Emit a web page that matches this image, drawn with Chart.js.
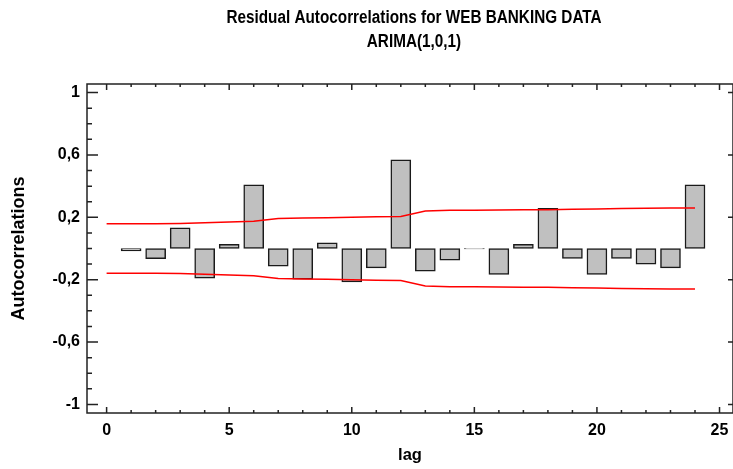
<!DOCTYPE html>
<html>
<head>
<meta charset="utf-8">
<script src="https://cdn.jsdelivr.net/npm/chart.js@4.4.0/dist/chart.umd.min.js"></script>
<style>
  html, body { margin: 0; padding: 0; background: #fff; }
  canvas { display: block; }
</style>
</head>
<body>
<canvas id="acfChart" width="733" height="469"></canvas>
<script>
// lags and residual autocorrelations
const lags = [1, 2, 3, 4, 5, 6, 7, 8, 9, 10, 11, 12, 13, 14, 15, 16, 17, 18, 19, 20, 21, 22, 23, 24];
const acf = [
  -0.015, -0.065, 0.132, -0.19, 0.026, 0.408, -0.113, -0.197, 0.036, -0.214, -0.124, 0.568,
  -0.146, -0.075, -0.003, -0.167, 0.026, 0.258, -0.063, -0.167, -0.063, -0.1, -0.124, 0.408,
];

// 95% probability limits
const limitLags = [0, 1, 2, 3, 4, 5, 6, 7, 8, 9, 10, 11, 12, 13, 14, 15, 16, 17, 18, 19, 20, 21, 22, 23, 24];
const upperLimit = [
  0.158, 0.158, 0.158, 0.161, 0.165, 0.17, 0.174, 0.193, 0.195, 0.197, 0.2, 0.203, 0.206,
  0.24, 0.245, 0.246, 0.247, 0.248, 0.249, 0.251, 0.253, 0.257, 0.258, 0.259, 0.26,
];
const lowerLimit = upperLimit.map(v => -v);

// tick labels
const xTickVals = [0, 5, 10, 15, 20, 25];
const yTickVals = [-1, -0.6, -0.2, 0.2, 0.6, 1];
const titleLines = ["Residual Autocorrelations for WEB BANKING DATA", "ARIMA(1,0,1)"];

Chart.defaults.color = "#000";

// condensed two-line title over the plot
const narrowTitle = {
  id: "narrowTitle",
  afterDraw(chart) {
    const { ctx } = chart;
    ctx.save();
    ctx.font = "bold 18px 'Liberation Sans', Arial, sans-serif";
    ctx.textAlign = "center";
    ctx.textBaseline = "middle";
    ctx.fillStyle = "#000";
    ctx.translate(414, 0);
    ctx.scale(0.85, 1);
    titleLines.forEach((t, i) => ctx.fillText(t, 0, 18 + i * 24));
    ctx.restore();
  },
};

// frame with inward tick marks
const frameTicks = {
  id: "frameTicks",
  afterDatasetsDraw(chart) {
    const { ctx, chartArea: a, scales: { x, y } } = chart;
    ctx.save();
    ctx.strokeStyle = "#222";
    ctx.lineWidth = 1.5;
    ctx.strokeRect(a.left, a.top, a.right - a.left, a.bottom - a.top);
    ctx.beginPath();
    for (let i = -10; i <= 10; i++) {
      const py = y.getPixelForValue(i / 10);
      const major = (i + 10) % 4 === 0;
      ctx.moveTo(a.left, py);
      ctx.lineTo(a.left + (major ? 11 : 5), py);
      if (major) {
        ctx.moveTo(a.right, py);
        ctx.lineTo(a.right - 5, py);
      }
    }
    for (let v = 0; v <= 25; v++) {
      const px = x.getPixelForValue(v);
      const len = v % 5 === 0 ? 6 : 3;
      ctx.moveTo(px, a.bottom);
      ctx.lineTo(px, a.bottom - len);
      ctx.moveTo(px, a.top);
      ctx.lineTo(px, a.top + len);
    }
    ctx.stroke();
    ctx.restore();
  },
};

const ctx = document.getElementById("acfChart");

const myChart = new Chart(ctx, {
  type: "bar",
  data: {
    datasets: [
      {
        type: "line",
        data: limitLags.map((l, i) => ({ x: l, y: upperLimit[i] })),
        borderColor: "#ff0000",
        borderWidth: 1.5,
        pointRadius: 0,
        tension: 0,
        fill: false,
        order: 1,
      },
      {
        type: "line",
        data: limitLags.map((l, i) => ({ x: l, y: lowerLimit[i] })),
        borderColor: "#ff0000",
        borderWidth: 1.5,
        pointRadius: 0,
        tension: 0,
        fill: false,
        order: 1,
      },
      {
        type: "bar",
        data: lags.map((l, i) => ({ x: l, y: acf[i] })),
        backgroundColor: "#c0c0c0",
        borderColor: "#1a1a1a",
        borderWidth: 1.5,
        borderSkipped: false,
        barThickness: 20,
        order: 2,
      },
    ],
  },
  options: {
    responsive: false,
    animation: false,
    layout: { padding: { left: 0, right: 0, top: 84, bottom: 0 } },
    plugins: {
      legend: { display: false },
      tooltip: { enabled: false },
      title: { display: false },
    },
    scales: {
      x: {
        type: "linear",
        offset: false,
        min: -0.8,
        max: 25.55,
        grid: { display: false, drawTicks: false, offset: false },
        border: { display: false },
        afterBuildTicks: (s) => { s.ticks = xTickVals.map(v => ({ value: v })); },
        afterFit: (s) => {
          s.height = 56;
          s.paddingLeft = 0;
          s.paddingRight = 0;
        },
        ticks: {
          padding: 8,
          maxRotation: 0,
          font: { family: "'Liberation Sans', Arial, sans-serif", size: 16, weight: "bold" },
        },
        title: {
          display: true,
          text: "lag",
          font: { family: "'Liberation Sans', Arial, sans-serif", size: 16.5, weight: "bold" },
          padding: { top: 0, bottom: 4 },
        },
      },
      y: {
        min: -1.055,
        max: 1.055,
        grid: { display: false, drawTicks: false },
        border: { display: false },
        afterBuildTicks: (s) => { s.ticks = yTickVals.map(v => ({ value: v })); },
        afterFit: (s) => { s.width = 87; },
        ticks: {
          padding: 7,
          font: { family: "'Liberation Sans', Arial, sans-serif", size: 16, weight: "bold" },
          callback: (v) => String(v).replace(".", ","),
        },
        title: {
          display: true,
          text: "Autocorrelations",
          font: { family: "'Liberation Sans', Arial, sans-serif", size: 18, weight: "bold" },
          padding: { top: 8, bottom: 0 },
        },
      },
    },
  },
  plugins: [frameTicks, narrowTitle],
});
</script>
</body>
</html>
